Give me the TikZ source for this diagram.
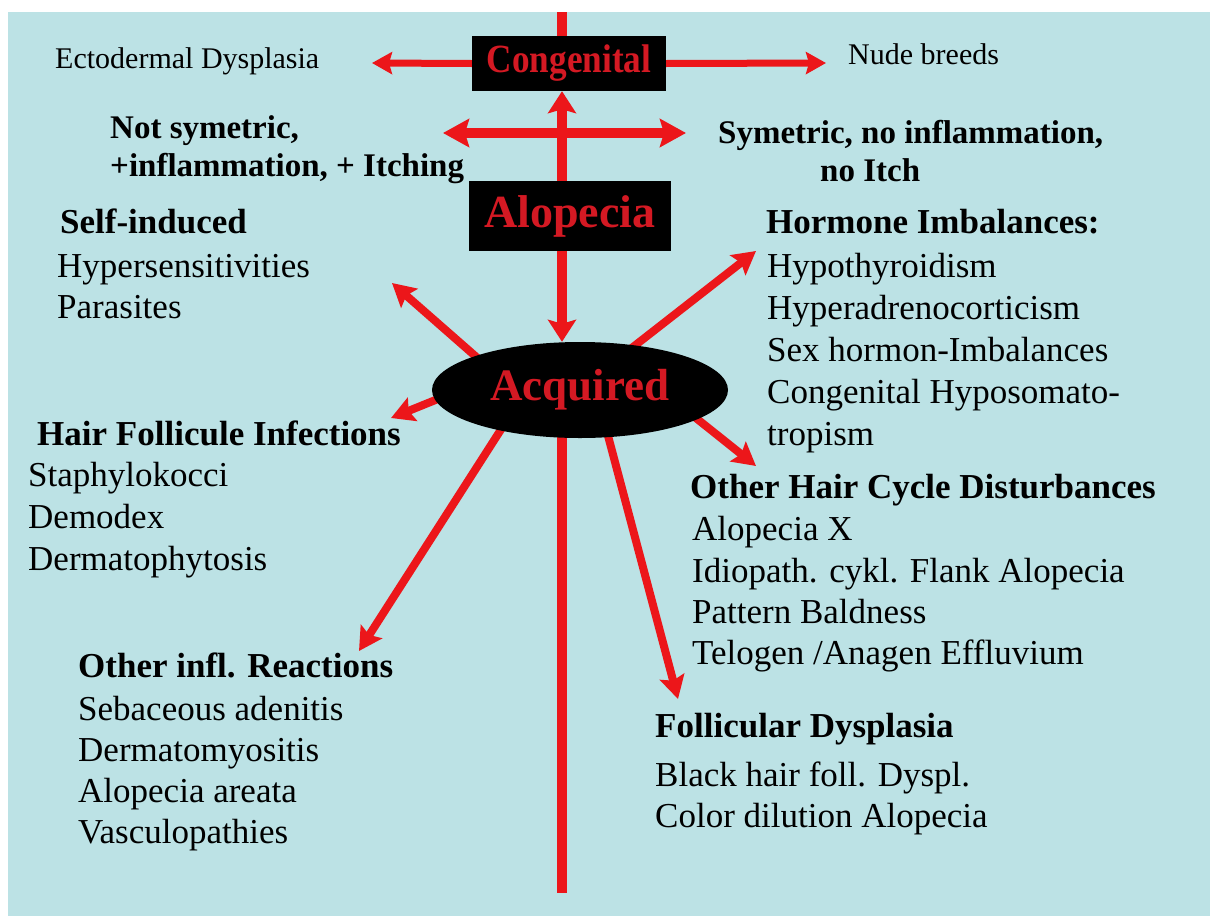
\documentclass[tikz,border=0pt]{standalone}
\usepackage{fontspec}
\setmainfont{Liberation Serif}
\usetikzlibrary{arrows.meta,shapes.geometric}
\pgfdeclarelayer{bg}
\pgfsetlayers{bg,main}
\definecolor{bgblue}{RGB}{188,226,229}
\definecolor{arrred}{RGB}{236,22,26}
\definecolor{txtred}{RGB}{212,25,35}
\begin{document}
\begin{tikzpicture}[x=1pt,y=-1pt,
  lbl/.style={anchor=base west,inner sep=0pt,font=\fontsize{35}{42}\selectfont},
  hd/.style={anchor=base west,inner sep=0pt,font=\fontsize{35}{42}\selectfont\bfseries},
  sm/.style={anchor=base west,inner sep=0pt,font=\fontsize{30}{36}\selectfont},
  cond/.style={anchor=base west,inner sep=0pt,font=\fontsize{33}{38}\selectfont\bfseries},
  blackbox/.style={fill=black,text=txtred,inner sep=0pt,font=\bfseries},
  vline/.style={draw=arrred,line width=10pt},
  varr/.style={draw=arrred,line width=10pt,-{Stealth[length=22pt,width=28pt,inset=4pt]}},
  harr/.style={draw=arrred,line width=7pt,-{Stealth[length=20pt,width=22pt,inset=3pt]}},
  darr/.style={draw=arrred,line width=10pt,{Stealth[length=26pt,width=28pt,inset=4pt]}-{Stealth[length=26pt,width=28pt,inset=4pt]}},
  arr/.style={draw=arrred,line width=8pt,shorten <=-8pt,-{Stealth[length=23pt,width=25pt,inset=4pt]}}
]
\useasboundingbox (0,0) rectangle (1210,916);

% boxes
\node[blackbox,minimum width=194pt,minimum height=55pt] (cong) at (569,63.5) {\fontsize{40}{40}\selectfont\scalebox{0.88}[1]{Congenital}};
\node[blackbox,minimum width=202pt,minimum height=70pt] (alop) at (570,216) {\fontsize{46}{46}\selectfont Alopecia};
\node[ellipse,fill=black,text=txtred,inner sep=0pt,minimum width=296pt,minimum height=96pt,font=\fontsize{45}{45}\selectfont\bfseries] (acq) at (580,390) {Acquired};

% free ends
\coordinate (top) at (562,12);
\coordinate (bot) at (562,893);
\coordinate (ecto) at (372,63);
\coordinate (nude) at (826,63);
\coordinate (dl) at (443,133);
\coordinate (dr) at (686,133);
\coordinate (t1) at (392,283);
\coordinate (t2) at (756,251);
\coordinate (t3) at (391,418);
\coordinate (t4) at (756,466);
\coordinate (t5) at (359,651);
\coordinate (t6) at (678,699);

\begin{pgfonlayer}{bg}
\fill[bgblue] (8,12) rectangle (1210,916);
\draw[vline] (top) -- (top |- cong.north);
\draw[vline,shorten <=-6pt] (top |- acq.south) -- (bot);
\draw[varr] (top |- alop.north) -- (top |- cong.south);
\draw[varr] (top |- alop.south) -- (top |- acq.north);
\draw[harr] (cong.west) -- (ecto);
\draw[harr] (cong.east) -- (nude);
\draw[darr] (dl) -- (dr);
\draw[arr] (acq.162) -- (t1);
\draw[arr] (acq.39) -- (t2);
\draw[arr] (acq.184) -- (t3);
\draw[arr] (acq.346) -- (t4);
\draw[arr] (acq.207.5) -- (t5);
\draw[arr] (acq.301) -- (t6);
\end{pgfonlayer}

% top labels
\node[sm] (ed) at (55,68) {Ectodermal Dysplasia};
\node[sm] (nb) at (848,64) {Nude breeds};
\node[cond] (ns1) at (110,138) {Not symetric,};
\node[cond] (ns2) at (110,176) {+inflammation, + Itching};
\node[cond] (sy1) at (718,143) {Symetric, no inflammation,};
\node[cond] (sy2) at (820,181) {no Itch};

% self-induced
\node[hd] (si) at (60,233) {Self-induced};
\node[lbl] (si1) at (57,277) {Hypersensitivities};
\node[lbl] (si2) at (57,318) {Parasites};

% hormone
\node[hd] (ho) at (766,233) {Hormone Imbalances:};
\node[lbl] (ho1) at (767,277) {Hypothyroidism};
\node[lbl] (ho2) at (767,319) {Hyperadrenocorticism};
\node[lbl] (ho3) at (767,361) {Sex hormon-Imbalances};
\node[lbl] (ho4) at (767,403) {Congenital Hyposomato-};
\node[lbl] (ho5) at (767,445) {tropism};

% hair follicle infections
\node[hd] (hf) at (37,445) {Hair Follicule Infections};
\node[lbl] (hf1) at (28,486) {Staphylokocci};
\node[lbl] (hf2) at (28,528) {Demodex};
\node[lbl] (hf3) at (28,570) {Dermatophytosis};

% other hair cycle
\node[hd] (oh) at (690,498) {Other Hair Cycle Disturbances};
\node[lbl] (oh1) at (692,540) {Alopecia X};
\node[lbl] (oh2) at (692,582) {Idiopath. cykl. Flank Alopecia};
\node[lbl] (oh3) at (692,623) {Pattern Baldness};
\node[lbl] (oh4) at (692,664) {Telogen /Anagen Effluvium};

% other infl reactions
\node[hd] (oi) at (78,677) {Other infl. Reactions};
\node[lbl] (oi1) at (78,720) {Sebaceous adenitis};
\node[lbl] (oi2) at (78,761) {Dermatomyositis};
\node[lbl] (oi3) at (78,802) {Alopecia areata};
\node[lbl] (oi4) at (78,843) {Vasculopathies};

% follicular dysplasia
\node[hd] (fd) at (655,737) {Follicular Dysplasia};
\node[lbl] (fd1) at (655,786) {Black hair foll. Dyspl.};
\node[lbl] (fd2) at (655,827) {Color dilution Alopecia};
\end{tikzpicture}
\end{document}
